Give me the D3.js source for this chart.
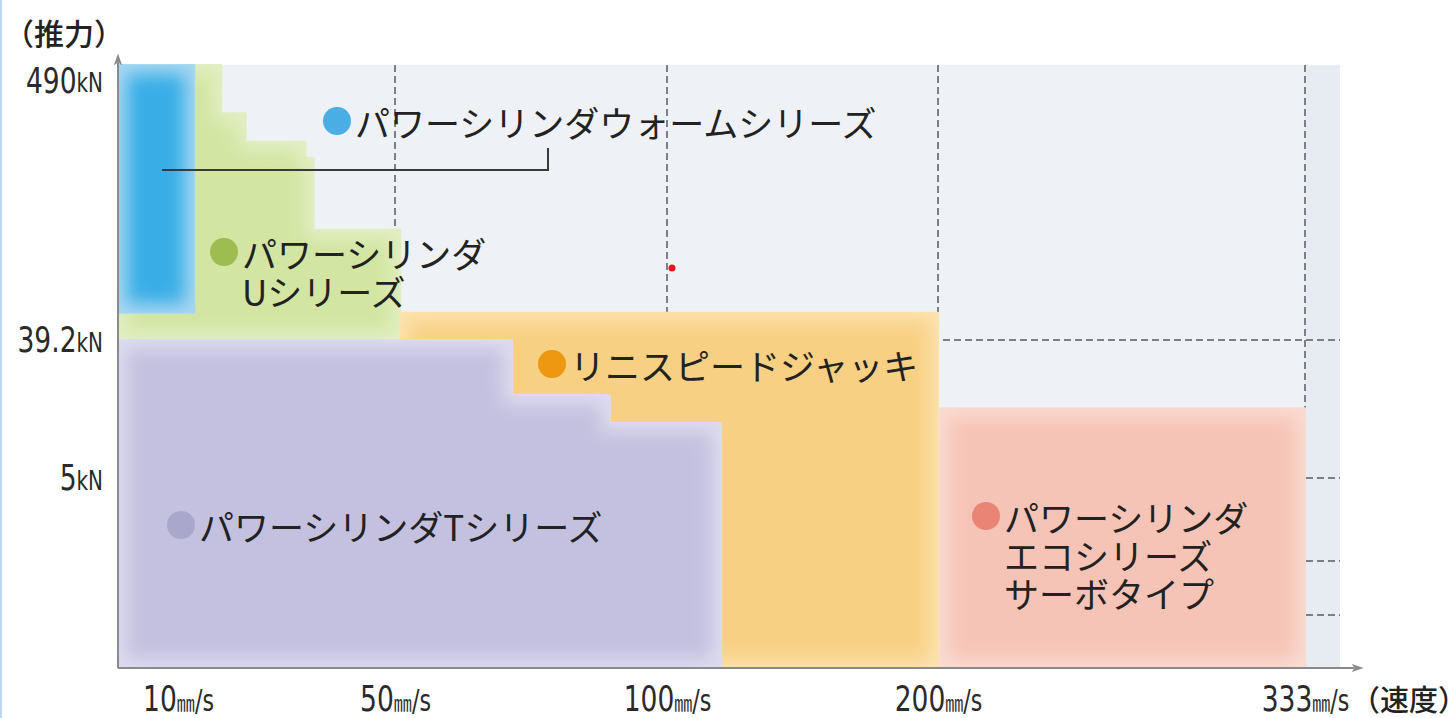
<!DOCTYPE html>
<html>
<head>
<meta charset="utf-8">
<script src="https://cdn.jsdelivr.net/npm/d3@7"></script>
<style>
	body { margin: 0; background: #fff; overflow: hidden; }
	.jp { font-family: "Noto Sans CJK JP", sans-serif; fill: #222; }
	.num { font-family: "Liberation Sans Narrow", "DejaVu Sans Condensed", "Noto Sans", sans-serif; fill: #2a2a2a; }
</style>
</head>
<body>
<div id="chart"></div>
<script>

// tick values
var speedTicks = [10, 50, 100, 200, 333]
var speedGrid = [50, 100, 200, 333]
var forceTicks = [5, 39.2, 490]
var forceGrid = [1, 2, 5, 39.2]

// product ranges as [speed mm/s, force kN] corners
var wormSeries = [[0, 490], [13, 490], [13, 84], [0, 84]]
var uSeries = [[0, 490], [18, 490], [18, 411], [22.5, 411], [22.5, 364], [33.5, 364], [33.5, 338], [35, 338], [35, 220], [51, 220], [51, 39.2], [0, 39.2]]
var liniSpeed = [[51, 84], [200, 84], [200, 0], [51, 0]]
var tSeries = [[0, 39.2], [71.5, 39.2], [71.5, 25.6], [89.5, 25.6], [89.5, 18.6], [120, 18.6], [120, 0], [0, 0]]
var ecoSeries = [[200.7, 22.3], [333, 22.3], [333, 0], [200.7, 0]]

var seriesNames = [
	["パワーシリンダウォームシリーズ"],
	["パワーシリンダ", "Uシリーズ"],
	["リニスピードジャッキ"],
	["パワーシリンダTシリーズ"],
	["パワーシリンダ", "エコシリーズ", "サーボタイプ"]
]

var width = 1455, height = 718

var svg = d3.select("#chart").append("svg")
	.attr("width", width)
	.attr("height", height)

// schematic (piecewise) scales
var x = d3.scaleLinear()
	.domain([0, 10, 50, 100, 200, 333, 360])
	.range([118, 178, 395, 667, 938, 1305, 1340])

var y = d3.scaleLinear()
	.domain([0, 1, 2, 5, 39.2, 490])
	.range([668, 615, 561, 478, 340, 65])

var defs = svg.append("defs")

var soft = defs.append("filter").attr("id", "soft")
	.attr("x", "-10%").attr("y", "-10%").attr("width", "120%").attr("height", "120%")
soft.append("feMorphology").attr("in", "SourceGraphic").attr("operator", "erode").attr("radius", 9).attr("result", "er")
soft.append("feGaussianBlur").attr("in", "er").attr("stdDeviation", 9).attr("result", "bl")
soft.append("feComposite").attr("in", "bl").attr("in2", "SourceGraphic").attr("operator", "in")

defs.append("marker")
	.attr("id", "arrow")
	.attr("viewBox", "0 0 10 10")
	.attr("refX", 2).attr("refY", 5)
	.attr("markerWidth", 6).attr("markerHeight", 6)
	.attr("orient", "auto")
	.append("path")
	.attr("d", "M0,1.5 L10,5 L0,8.5 L2.5,5 Z")
	.attr("fill", "#8a8a8a")

// thin blue strip at the left edge
svg.append("rect").attr("x", 0).attr("y", 0).attr("width", 2).attr("height", height).attr("fill", "#bcd5f0")

// plot background
svg.append("rect")
	.attr("x", x(0)).attr("y", y(490))
	.attr("width", x(360) - x(0)).attr("height", y(0) - y(490))
	.attr("fill", "#eef2f6")

svg.append("rect")
	.attr("x", x(333)).attr("y", y(490))
	.attr("width", x(360) - x(333)).attr("height", y(0) - y(490))
	.attr("fill", "#e7ecf2")

// dashed grid
var grid = svg.append("g").attr("stroke", "#7d7f82").attr("stroke-width", 2).attr("stroke-dasharray", "7,4")

grid.selectAll(".vg").data(speedGrid).enter().append("line")
	.attr("x1", d => x(d)).attr("x2", d => x(d))
	.attr("y1", y(490)).attr("y2", y(0))

grid.selectAll(".hg").data(forceGrid).enter().append("line")
	.attr("x1", x(0)).attr("x2", x(360))
	.attr("y1", d => y(d)).attr("y2", d => y(d))

// product areas
var shape = d3.line().x(d => x(d[0])).y(d => y(d[1]))

var areas = [
	{pts: uSeries, edge: "#e2eec3", core: "#d2e5a2"},
	{pts: wormSeries, edge: "#a9d8f2", core: "#38ade6"},
	{pts: liniSpeed, edge: "#fbe2ae", core: "#f8d083"},
	{pts: tSeries, edge: "#dddcee", core: "#c3c1df"},
	{pts: ecoSeries, edge: "#f9dbd2", core: "#f6c4b6"}
]

areas.forEach(function(a) {
	var d = shape(a.pts) + "Z"
	svg.append("path")
		.attr("d", d)
		.attr("fill", a.edge)
		.attr("stroke", a.edge)
		.attr("stroke-width", 2)
		.attr("stroke-linejoin", "round")
	svg.append("path")
		.attr("d", d)
		.attr("fill", a.core)
		.attr("filter", "url(#soft)")
})

// leader line for the worm series label
svg.append("path")
	.attr("d", d3.line()([[162, 170], [548, 170], [548, 148]]))
	.attr("fill", "none")
	.attr("stroke", "#3a3a3a")
	.attr("stroke-width", 2)

// labels
var labelPos = [
	{cx: 337, cy: 121, color: "#4aaee4"},
	{cx: 224, cy: 252, color: "#9dbd50"},
	{cx: 552, cy: 364, color: "#ee9710"},
	{cx: 181, cy: 525, color: "#a9a7cb"},
	{cx: 986, cy: 516, color: "#ea8474"}
]

seriesNames.forEach(function(lines, i) {
	var p = labelPos[i]
	svg.append("circle")
		.attr("cx", p.cx).attr("cy", p.cy).attr("r", 14)
		.attr("fill", p.color)
	var t = svg.append("text")
		.attr("class", "jp")
		.attr("x", p.cx + 18)
		.attr("y", p.cy)
		.attr("dominant-baseline", "central")
		.style("font-size", "35px")
	lines.forEach(function(l, j) {
		t.append("tspan")
			.attr("x", p.cx + 18)
			.attr("y", p.cy + j * 38)
			.text(l)
	})
})

// small red pointer dot
svg.append("circle").attr("cx", 672).attr("cy", 268).attr("r", 3.5).attr("fill", "#e5141b")

// axes
var yAxis = d3.axisLeft(y).tickValues(forceTicks).tickSize(0)
var xAxis = d3.axisBottom(x).tickValues(speedTicks).tickSize(0)

var gy = svg.append("g").attr("transform", "translate(" + x(0) + ",0)").call(yAxis)
gy.select(".domain").remove()
gy.selectAll("text")
	.attr("class", "num")
	.attr("fill", null)
	.attr("x", 0)
	.attr("transform", "translate(-15,0) scale(0.82,1)")
	.attr("dy", d => d === 490 ? "27px" : "11px")
	.text(null)
	.each(function(d) {
		var s = d3.select(this)
		s.append("tspan").style("font-size", "36px").text(d)
		s.append("tspan").style("font-size", "27px").text("kN")
	})
gy.attr("font-size", null).attr("font-family", null)

var gx = svg.append("g").attr("transform", "translate(0," + y(0) + ")").call(xAxis)
gx.select(".domain").remove()
gx.selectAll("text")
	.attr("class", "num")
	.attr("fill", null)
	.attr("y", 43)
	.attr("dy", null)
	.attr("transform", "scale(0.82,1)")
	.text(null)
	.each(function(d) {
		var s = d3.select(this)
		s.append("tspan").style("font-size", "36px").text(d)
		s.append("tspan").style("font-size", "22px").style("font-family", "'Noto Sans CJK JP'").text("㎜")
		s.append("tspan").style("font-size", "30px").text("/s")
	})
gx.attr("font-size", null).attr("font-family", null)

svg.append("line")
	.attr("x1", x(0)).attr("y1", y(0))
	.attr("x2", x(0)).attr("y2", y(490) - 2)
	.attr("stroke", "#8a8a8a").attr("stroke-width", 2)
	.attr("marker-end", "url(#arrow)")

svg.append("line")
	.attr("x1", x(0)).attr("y1", y(0))
	.attr("x2", x(360) + 14).attr("y2", y(0))
	.attr("stroke", "#8a8a8a").attr("stroke-width", 2)
	.attr("marker-end", "url(#arrow)")

// axis titles
svg.append("text")
	.attr("class", "jp")
	.attr("x", 4).attr("y", 32)
	.attr("dominant-baseline", "central")
	.style("font-size", "30px")
	.style("font-weight", 500)
	.text("（推力）")

svg.append("text")
	.attr("class", "jp")
	.attr("x", 1351).attr("y", 698)
	.attr("dominant-baseline", "central")
	.style("font-size", "29px")
	.style("font-weight", 500)
	.text("（速度）")

</script>
</body>
</html>
